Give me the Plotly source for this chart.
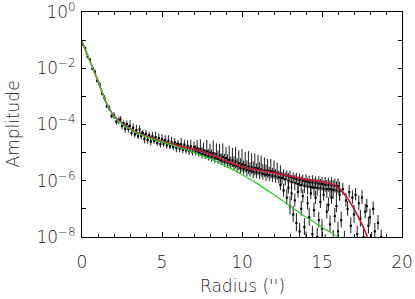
import plotly.graph_objects as go

# ---------------- data (log10 amplitudes) ----------------
# inner steep part
rad_a = [0.05, 0.2, 0.35, 0.5, 0.65, 0.8, 0.95, 1.1, 1.25, 1.4, 1.55, 1.7, 1.85, 2.0, 2.15, 2.3]
log_a = [-1.15, -1.28, -1.6, -1.7, -2.02, -2.12, -2.45, -2.58, -2.9, -3.05, -3.35, -3.42, -3.7, -3.68, -3.9, -3.86]
eup_a = [0.04, 0.05, 0.04, 0.06, 0.05, 0.07, 0.05, 0.08, 0.06, 0.09, 0.07, 0.10, 0.08, 0.12, 0.10, 0.12]
edn_a = [0.04, 0.05, 0.04, 0.06, 0.05, 0.07, 0.05, 0.08, 0.06, 0.09, 0.07, 0.10, 0.08, 0.12, 0.10, 0.12]

# shoulder
rad_b = [2.4, 2.5, 2.6, 2.7, 2.8, 2.9, 3.0, 3.1, 3.2, 3.3, 3.4, 3.5, 3.6, 3.7, 3.8, 3.9,
         4.0, 4.1, 4.2, 4.3, 4.4, 4.5, 4.6, 4.7, 4.8, 4.9, 5.0, 5.1, 5.2, 5.3, 5.4, 5.5,
         5.6, 5.7, 5.8, 5.9, 6.0, 6.1, 6.2, 6.3, 6.4, 6.5, 6.6, 6.7, 6.8, 6.9, 7.0]
log_b = [-3.82, -4.05, -3.96, -4.15, -3.98, -4.16, -4.05, -4.30, -4.12, -4.35, -4.20, -4.42,
         -4.18, -4.40, -4.30, -4.52, -4.33, -4.55, -4.38, -4.60, -4.42, -4.58, -4.45, -4.66,
         -4.48, -4.70, -4.52, -4.68, -4.55, -4.74, -4.58, -4.78, -4.62, -4.80, -4.64, -4.84,
         -4.68, -4.85, -4.70, -4.90, -4.72, -4.92, -4.76, -4.95, -4.78, -4.98, -4.80]
eup_b = [0.12, 0.15, 0.10, 0.18, 0.12, 0.14, 0.20, 0.11, 0.16, 0.13, 0.19, 0.12, 0.15, 0.17,
         0.11, 0.20, 0.14, 0.16, 0.12, 0.18, 0.15, 0.13, 0.20, 0.12, 0.16, 0.14, 0.18, 0.13,
         0.17, 0.15, 0.20, 0.12, 0.18, 0.14, 0.16, 0.19, 0.13, 0.17, 0.22, 0.15, 0.18, 0.14,
         0.20, 0.16, 0.24, 0.15, 0.20]
edn_b = [0.10, 0.12, 0.09, 0.14, 0.10, 0.12, 0.15, 0.10, 0.13, 0.11, 0.15, 0.10, 0.12, 0.14,
         0.10, 0.15, 0.12, 0.13, 0.10, 0.14, 0.12, 0.11, 0.15, 0.10, 0.13, 0.12, 0.14, 0.11,
         0.13, 0.12, 0.15, 0.10, 0.14, 0.12, 0.13, 0.15, 0.11, 0.14, 0.16, 0.12, 0.14, 0.12,
         0.15, 0.13, 0.17, 0.12, 0.15]

# plateau
rad_c = [7.1, 7.2, 7.3, 7.4, 7.5, 7.6, 7.7, 7.8, 7.9, 8.0, 8.1, 8.2, 8.3, 8.4, 8.5, 8.6,
         8.7, 8.8, 8.9, 9.0, 9.1, 9.2, 9.3, 9.4, 9.5, 9.6, 9.7, 9.8, 9.9, 10.0, 10.1, 10.2,
         10.3, 10.4, 10.5, 10.6, 10.7, 10.8, 10.9, 11.0, 11.1, 11.2, 11.3, 11.4, 11.5, 11.6,
         11.7, 11.8, 11.9, 12.0, 12.1, 12.2, 12.3, 12.4, 12.5]
log_c = [-4.95, -4.85, -5.00, -4.88, -5.05, -4.92, -5.08, -4.95, -5.12, -5.00, -5.15, -5.02,
         -5.20, -5.05, -5.22, -5.10, -5.28, -5.15, -5.32, -5.20, -5.36, -5.25, -5.40, -5.28,
         -5.45, -5.32, -5.48, -5.38, -5.55, -5.42, -5.58, -5.45, -5.62, -5.50, -5.64, -5.52,
         -5.68, -5.55, -5.70, -5.56, -5.72, -5.60, -5.75, -5.62, -5.78, -5.64, -5.80, -5.66,
         -5.82, -5.68, -5.85, -5.72, -5.88, -5.75, -5.90]
eup_c = [0.22, 0.30, 0.18, 0.35, 0.25, 0.28, 0.20, 0.40, 0.24, 0.32, 0.26, 0.45, 0.22, 0.38,
         0.30, 0.42, 0.25, 0.48, 0.28, 0.40, 0.30, 0.50, 0.26, 0.45, 0.32, 0.52, 0.28, 0.46,
         0.35, 0.55, 0.30, 0.48, 0.34, 0.56, 0.30, 0.50, 0.36, 0.52, 0.32, 0.48, 0.38, 0.50,
         0.34, 0.45, 0.36, 0.42, 0.30, 0.44, 0.28, 0.40, 0.26, 0.36, 0.24, 0.30, 0.22]
edn_c = [0.15, 0.18, 0.14, 0.20, 0.16, 0.18, 0.15, 0.22, 0.16, 0.20, 0.17, 0.22, 0.16, 0.21,
         0.18, 0.22, 0.17, 0.24, 0.18, 0.22, 0.19, 0.24, 0.18, 0.23, 0.20, 0.25, 0.19, 0.24,
         0.21, 0.26, 0.20, 0.25, 0.22, 0.26, 0.21, 0.25, 0.22, 0.26, 0.21, 0.25, 0.22, 0.26,
         0.22, 0.25, 0.23, 0.25, 0.22, 0.26, 0.22, 0.25, 0.22, 0.24, 0.22, 0.24, 0.22]

# outer ridge
rad_d = [12.6, 12.7, 12.8, 12.9, 13.0, 13.1, 13.2, 13.3, 13.4, 13.5, 13.6, 13.7, 13.8, 13.9,
         14.0, 14.1, 14.2, 14.3, 14.4, 14.5, 14.6, 14.7, 14.8, 14.9, 15.0, 15.1, 15.2, 15.3,
         15.4, 15.5, 15.6, 15.7, 15.8, 15.9, 16.0, 16.1]
log_d = [-5.80, -5.95, -5.82, -6.00, -5.86, -6.05, -5.90, -6.08, -5.94, -6.12, -5.98, -6.15,
         -6.00, -6.18, -6.02, -6.20, -6.05, -6.22, -6.06, -6.24, -6.08, -6.25, -6.10, -6.26,
         -6.12, -6.28, -6.14, -6.30, -6.15, -6.30, -6.16, -6.32, -6.18, -6.34, -6.20, -6.38]
eup_d = [0.20, 0.25, 0.18, 0.28, 0.22, 0.26, 0.20, 0.30, 0.22, 0.27, 0.24, 0.30, 0.22, 0.28,
         0.25, 0.30, 0.23, 0.28, 0.26, 0.32, 0.24, 0.30, 0.26, 0.32, 0.25, 0.30, 0.27, 0.33,
         0.26, 0.32, 0.28, 0.34, 0.26, 0.32, 0.28, 0.35]
edn_d = [0.18, 0.22, 0.16, 0.25, 0.20, 0.24, 0.18, 0.26, 0.20, 0.25, 0.22, 0.28, 0.20, 0.26,
         0.22, 0.28, 0.21, 0.26, 0.24, 0.30, 0.22, 0.28, 0.24, 0.30, 0.23, 0.28, 0.25, 0.31,
         0.24, 0.30, 0.26, 0.32, 0.24, 0.30, 0.26, 0.33]

# low scattered points in the outskirts
rad_e = [12.4, 12.6, 12.8, 12.9, 13.0, 13.1, 13.2, 13.3, 13.4, 13.5, 13.6, 13.7, 13.8, 13.9,
         14.0, 14.1, 14.2, 14.3, 14.4, 14.5, 14.6, 14.7, 14.8, 14.9, 15.0, 15.1, 15.2, 15.3,
         15.4, 15.5, 15.6, 15.7, 15.8, 15.9, 16.0, 16.1, 16.2, 16.3, 16.4, 16.5, 16.6, 16.7,
         16.8, 16.9, 17.0, 17.1, 17.2, 17.3, 17.4, 17.5, 17.6, 17.7, 17.8, 17.9, 18.0, 18.1,
         18.2, 18.3, 18.5, 18.7]
log_e = [-6.15, -6.35, -6.60, -6.25, -6.90, -6.45, -7.20, -6.70, -7.50, -6.40, -7.80, -7.00,
         -6.55, -7.65, -8.10, -6.80, -7.30, -6.45, -7.90, -7.05, -6.60, -8.00, -7.40, -6.75,
         -7.70, -6.50, -8.20, -7.10, -6.85, -7.55, -6.60, -8.05, -7.25, -6.90, -7.80, -6.50,
         -7.40, -6.30, -8.10, -6.70, -7.00, -6.40, -7.60, -6.60, -7.20, -6.50, -7.90, -6.80,
         -7.35, -6.60, -8.00, -7.10, -6.90, -7.60, -7.30, -8.10, -7.00, -7.80, -7.50, -8.00]
eup_e = [0.20, 0.25, 0.30, 0.22, 0.35, 0.28, 0.30, 0.25, 0.35, 0.22, 0.30, 0.28, 0.25, 0.32,
         0.30, 0.26, 0.34, 0.22, 0.30, 0.28, 0.25, 0.32, 0.30, 0.26, 0.34, 0.24, 0.30, 0.28,
         0.26, 0.32, 0.25, 0.30, 0.28, 0.26, 0.34, 0.24, 0.30, 0.22, 0.32, 0.26, 0.28, 0.24,
         0.30, 0.26, 0.34, 0.24, 0.30, 0.28, 0.32, 0.26, 0.30, 0.28, 0.26, 0.32, 0.30, 0.28,
         0.26, 0.30, 0.28, 0.26]
edn_e = [0.18, 0.22, 0.25, 0.20, 0.30, 0.24, 0.26, 0.22, 0.30, 0.20, 0.26, 0.24, 0.22, 0.28,
         0.26, 0.22, 0.30, 0.20, 0.26, 0.24, 0.22, 0.28, 0.26, 0.22, 0.30, 0.20, 0.26, 0.24,
         0.22, 0.28, 0.22, 0.26, 0.24, 0.22, 0.30, 0.20, 0.26, 0.20, 0.28, 0.22, 0.24, 0.20,
         0.26, 0.22, 0.30, 0.20, 0.26, 0.24, 0.28, 0.22, 0.26, 0.24, 0.22, 0.28, 0.26, 0.24,
         0.22, 0.26, 0.24, 0.22]

# model curves
red_x = [0, 0.5, 1, 1.5, 2, 2.5, 3, 3.5, 4, 5, 6, 7, 8, 9, 10, 11, 12, 13, 14, 15, 15.5,
         16, 16.5, 17, 17.5, 18, 18.2]
red_log = [-1.05, -1.75, -2.45, -3.2, -3.7, -3.95, -4.15, -4.3, -4.42, -4.6, -4.75, -4.88,
           -5.05, -5.3, -5.5, -5.62, -5.72, -5.84, -5.95, -6.04, -6.1, -6.24, -6.55, -7.0,
           -7.55, -8.2, -8.45]
green_x = [0, 0.5, 1, 1.5, 2, 2.5, 3, 4, 5, 6, 7, 8, 9, 10, 11, 12, 13, 14, 15, 16, 16.5]
green_log = [-1.05, -1.75, -2.45, -3.2, -3.72, -3.98, -4.17, -4.44, -4.62, -4.8, -5.0, -5.22,
             -5.48, -5.78, -6.12, -6.5, -6.9, -7.3, -7.65, -8.0, -8.15]

ytick_vals = [1e-8, 1e-6, 1e-4, 1e-2, 1e0]
ytick_text = ["10<sup>−8</sup>", "10<sup>−6</sup>", "10<sup>−4</sup>", "10<sup>−2</sup>", "10<sup>0</sup>"]
xtick_vals = [0, 5, 10, 15, 20]

# ---------------- figure ----------------
fig = go.Figure()

groups = [(rad_e, log_e, eup_e, edn_e), (rad_a, log_a, eup_a, edn_a),
          (rad_b, log_b, eup_b, edn_b), (rad_c, log_c, eup_c, edn_c),
          (rad_d, log_d, eup_d, edn_d)]
for rx, lg, eu, ed in groups:
    amp = [10 ** v for v in lg]
    plus = [a * (10 ** u - 1) for a, u in zip(amp, eu)]
    minus = [a * (1 - 10 ** (-d)) for a, d in zip(amp, ed)]
    fig.add_trace(go.Scatter(
        x=rx, y=amp, mode="markers",
        marker=dict(color="black", size=2.2, symbol="square"),
        error_y=dict(type="data", array=plus, arrayminus=minus, symmetric=False,
                     color="black", thickness=0.9, width=0),
        showlegend=False, hoverinfo="skip"))

fig.add_trace(go.Scatter(x=red_x, y=[10 ** v for v in red_log], mode="lines",
                         line=dict(color="rgb(200,20,50)", width=1.6, shape="spline"),
                         showlegend=False))
fig.add_trace(go.Scatter(x=green_x, y=[10 ** v for v in green_log], mode="lines",
                         line=dict(color="rgb(40,205,40)", width=1.2, shape="spline"),
                         showlegend=False))

axis_font = dict(family="DejaVu Sans, sans-serif", size=17, color="#222", weight=200)
fig.update_layout(
    width=415, height=299,
    margin=dict(l=82, r=13, t=12, b=62, autoexpand=False),
    paper_bgcolor="white", plot_bgcolor="white",
    font=axis_font,
    annotations=[
        dict(text="Radius ('')", xref="paper", yref="paper", x=0.5, y=0,
             xanchor="center", yanchor="middle", yshift=-49, showarrow=False,
             font=axis_font),
        dict(text="Amplitude", xref="paper", yref="paper", x=0, y=0.5,
             xanchor="center", yanchor="middle", xshift=-70, textangle=-90,
             showarrow=False, font=axis_font),
    ],
)
fig.update_xaxes(
    range=[0, 20], tickvals=xtick_vals, ticks="inside", ticklen=5, tickcolor="black",
    showline=True, linecolor="black", linewidth=1, mirror="allticks",
    showgrid=False, zeroline=False, automargin=False, ticklabelstandoff=10,
    ticklabeloverflow="allow",
    minor=dict(dtick=1, ticks="inside", ticklen=3, tickcolor="black", showgrid=False),
    tickfont=axis_font,
)
fig.update_yaxes(
    type="log", range=[-8, 0], tickvals=ytick_vals, ticktext=ytick_text,
    ticks="inside", ticklen=4, tickcolor="black",
    showline=True, linecolor="black", linewidth=1, mirror="allticks",
    showgrid=False, zeroline=False, automargin=False, ticklabelstandoff=2,
    ticklabeloverflow="allow",
    minor=dict(tickvals=[1e-7, 1e-5, 1e-3, 1e-1], ticks="inside", ticklen=4,
               tickcolor="black", showgrid=False),
    tickfont=axis_font,
)

fig.write_html("out.html", config={"displayModeBar": False},
               post_script="document.body.style.margin='0';document.body.style.overflow='hidden';")
